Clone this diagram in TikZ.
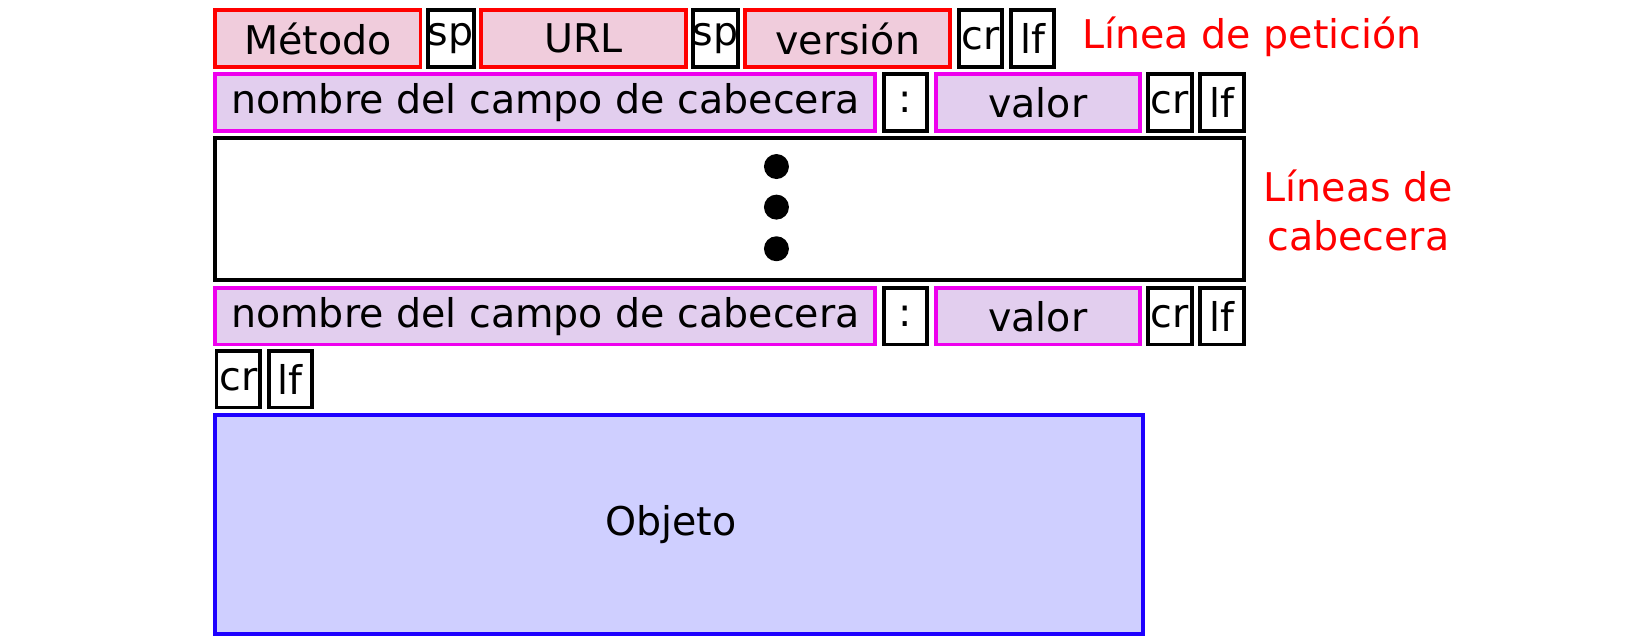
\documentclass[tikz,border=0pt]{standalone}
\usepackage{fontspec}
\setmainfont{DejaVu Sans}
\usepackage{tikz}

\definecolor{reqfill}{HTML}{F0CCDC}
\definecolor{hdrfill}{HTML}{E2CEEE}
\definecolor{hdrline}{HTML}{EE00EE}
\definecolor{objfill}{HTML}{CFCFFF}
\definecolor{objline}{HTML}{1E00FF}

\begin{document}
\begin{tikzpicture}[x=1pt, y=-1pt, every node/.style={font=\fontsize{38}{47}\selectfont, inner sep=0pt},
	fld/.style={draw, line width=3.8pt, minimum height=54pt},
	req/.style={fld, draw=red, fill=reqfill, minimum width=197pt},
	hdr/.style={fld, draw=hdrline, fill=hdrfill},
	ctl/.style={fld, draw=black, fill=white, minimum width=42pt},
	lbl/.style={text=red, align=center}]
	\useasboundingbox (0,0) rectangle (1568,617);
	% request line
	\node[req] (met) at (305.5,37) {Método};
	\node[ctl] (sp1) at (433,37) {sp};
	\node[req] (url) at (560.5,37) {URL};
	\node[ctl] (sp2) at (687.5,37) {sp};
	\node[req] (ver) at (814.5,37) {versión};
	\node[ctl] (cr1) at (942,37) {cr};
	\node[ctl] (lf1) at (992,37) {lf};
	% header lines
	\node[hdr, minimum width=634pt] (nom1) at (524,98.5) {nombre del campo de cabecera};
	\node[ctl] (col1) at (870,98.5) {:};
	\node[hdr, minimum width=196pt] (val1) at (997,98.5) {valor};
	\node[ctl] (cr2) at (1124,98.5) {cr};
	\node[ctl] (lf2) at (1174,98.5) {lf};
	\node[fld, minimum width=988pt, minimum height=136pt] (more) at (701,201) {};
	\foreach \i/\y in {1/160, 2/199, 3/239} {\node[circle, fill=black, minimum size=24pt] (d\i) at (746,\y) {};}
	\node[hdr, minimum width=634pt] (nom2) at (524,304) {nombre del campo de cabecera};
	\node[ctl] (col2) at (870,304) {:};
	\node[hdr, minimum width=196pt] (val2) at (997,304) {valor};
	\node[ctl] (cr3) at (1124,304) {cr};
	\node[ctl] (lf3) at (1174,304) {lf};
	% blank line and body
	\node[ctl] (cr4) at (229,364.5) {cr};
	\node[ctl] (lf4) at (279,364.5) {lf};
	\node[fld, draw=objline, fill=objfill, minimum width=891pt, minimum height=210pt] (obj) at (652.5,504) {\hspace*{-16pt}Objeto};
	\node[lbl] (reqlbl) at (1203,35) {Línea de petición};
	\node[lbl] (hdrlbl) at (1305,202) {Líneas de\\cabecera};
\end{tikzpicture}
\end{document}
